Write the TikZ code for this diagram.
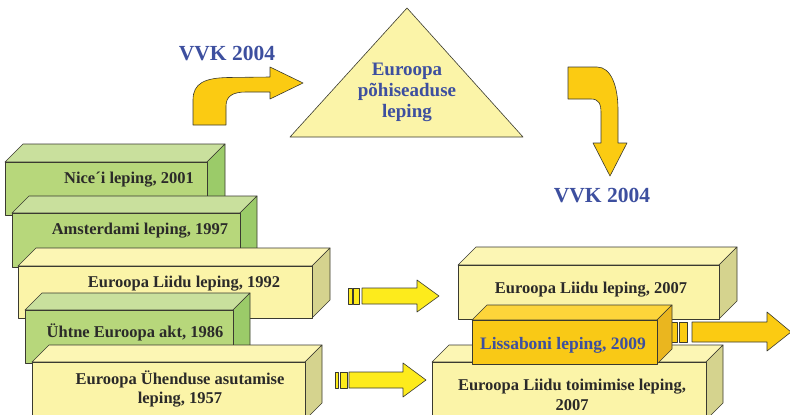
\documentclass[tikz,border=0pt]{standalone}
\usepackage{fontspec}
\setmainfont{Liberation Serif}

\definecolor{edge}{HTML}{3A3A30}
\definecolor{ink}{HTML}{2B2A29}
\definecolor{title}{HTML}{3D4F9F}
\definecolor{greenFront}{HTML}{B7D77B}
\definecolor{greenTop}{HTML}{C9E09D}
\definecolor{greenSide}{HTML}{9BCB69}
\definecolor{paleFront}{HTML}{FBF4A8}
\definecolor{paleTop}{HTML}{FCF6B4}
\definecolor{paleSide}{HTML}{D5D38E}
\definecolor{goldFront}{HTML}{F9C916}
\definecolor{goldTop}{HTML}{FDD53A}
\definecolor{goldSide}{HTML}{EAB61F}
\definecolor{arrowYellow}{HTML}{FDEB1C}
\definecolor{arrowGold}{HTML}{FBCB12}

% slab: x1, y1, x2, y2 of the front face, depth, front/top/side colours
\newcommand\drawslab[8]{%
  \filldraw[face,fill=#7] (#1,#2) -- (#1+#5,#2-#5) -- (#3+#5,#2-#5) -- (#3,#2) -- cycle;
  \filldraw[face,fill=#8] (#3,#2) -- (#3+#5,#2-#5) -- (#3+#5,#4-#5) -- (#3,#4) -- cycle;
  \filldraw[face,fill=#6] (#1,#2) rectangle (#3,#4);
}

\begin{document}
\begin{tikzpicture}[x=1pt,y=-1pt,line join=round,
  face/.style={draw=edge,line width=0.6pt},
  arrowshape/.style={draw=edge,line width=0.6pt},
  boxtext/.style={font=\bfseries\fontsize{16.5}{19.5}\selectfont,text=ink,align=center,anchor=base,inner sep=0pt},
  bluetext/.style={font=\bfseries\fontsize{19}{21}\selectfont,text=title,align=center,anchor=base,inner sep=0pt},
  headline/.style={font=\bfseries\fontsize{21.5}{24}\selectfont,text=title,anchor=base,inner sep=0pt}]
\useasboundingbox (0,0) rectangle (790,415);
\clip (0,0) rectangle (790,415);

% headings
\node[headline] (vvkA) at (227,60) {VVK 2004};
\node[headline] (vvkB) at (602,202.5) {VVK 2004};

% bent arrow towards the constitution treaty
\filldraw[arrowshape,fill=arrowGold]
  (193,125) -- (193,100) .. controls (193,83) and (205,78) .. (228,77.5)
  -- (270,77) -- (270,67) -- (303,83) -- (270,99) -- (270,92) -- (246,92)
  .. controls (233,92) and (226,96) .. (226,106) -- (226,125) -- cycle;

% bent arrow down to the second VVK
\filldraw[arrowshape,fill=arrowGold]
  (568,67) -- (597,67) .. controls (611,67) and (618,86) .. (618,110)
  -- (618,143) -- (627,143) -- (610,176) -- (593,143) -- (601,143) -- (601,113)
  .. controls (601,104) and (599,99) .. (591,99) -- (568,99) -- cycle;

% triangle (multi-line nodes sit on the baseline of their last line)
\filldraw[face,fill=paleFront] (407,8) -- (523,137) -- (290,137) -- cycle;
\node[bluetext] (constitution) at (407,117.5) {Euroopa\\põhiseaduse\\leping};

% left stack of treaties
\drawslab{5}{162}{207}{215}{18}{greenFront}{greenTop}{greenSide}
\node[boxtext] (nice) at (129,183) {Nice´i leping, 2001};
\drawslab{12}{213}{240}{267}{17}{greenFront}{greenTop}{greenSide}
\node[boxtext] (amsterdam) at (140,234) {Amsterdami leping, 1997};
\drawslab{18}{266}{312}{318}{18}{paleFront}{paleTop}{paleSide}
\node[boxtext] (maastricht) at (184,287) {Euroopa Liidu leping, 1992};
\drawslab{25}{310}{233}{363}{17}{greenFront}{greenTop}{greenSide}
\node[boxtext] (singleact) at (135,337.3) {Ühtne Euroopa akt, 1986};
\drawslab{32}{362}{305}{420}{17}{paleFront}{paleTop}{paleSide}
\node[boxtext] (rome) at (180,403.5) {Euroopa Ühenduse asutamise\\leping, 1957};

% striped arrows
\filldraw[arrowshape,fill=arrowYellow] (348,288) rectangle (352,304);
\filldraw[arrowshape,fill=arrowYellow] (353.5,288) rectangle (359.5,304);
\filldraw[arrowshape,fill=arrowYellow]
  (362,288) -- (417,288) -- (417,280) -- (439,296) -- (417,312) -- (417,304) -- (362,304) -- cycle;

\filldraw[arrowshape,fill=arrowYellow] (335,372) rectangle (338.5,388);
\filldraw[arrowshape,fill=arrowYellow] (340,372) rectangle (347,388);
\filldraw[arrowshape,fill=arrowYellow]
  (349,372) -- (403,372) -- (403,363) -- (426,380) -- (403,397) -- (403,388) -- (349,388) -- cycle;

% right group
\drawslab{458}{265}{719}{319}{18}{paleFront}{paleTop}{paleSide}
\node[boxtext] (lisbonEU) at (591,293) {Euroopa Liidu leping, 2007};
\drawslab{432}{362}{706}{420}{17}{paleFront}{paleTop}{paleSide}
\node[boxtext] (lisbonFEU) at (572,410) {Euroopa Liidu toimimise leping,\\2007};

\filldraw[arrowshape,fill=arrowGold] (670,322) rectangle (677,342);
\filldraw[arrowshape,fill=arrowGold] (679.5,322) rectangle (687.5,342);
\filldraw[arrowshape,fill=arrowGold]
  (692,322) -- (767,322) -- (767,312) -- (791,332) -- (767,351) -- (767,342) -- (692,342) -- cycle;

\drawslab{472}{320}{657}{364}{15}{goldFront}{goldTop}{goldSide}
\node[bluetext,font=\bfseries\fontsize{17.5}{20}\selectfont] (lisbon) at (563,349) {Lissaboni leping, 2009};
\end{tikzpicture}
\end{document}
